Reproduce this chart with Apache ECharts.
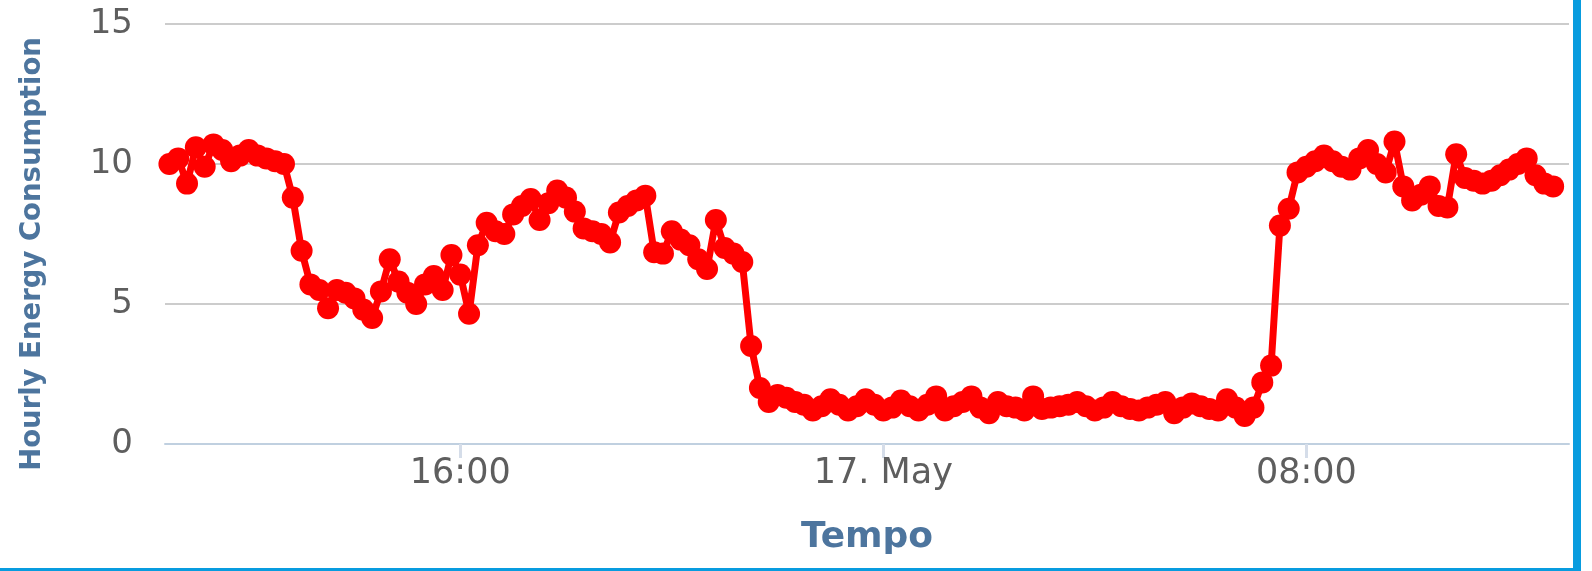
<!DOCTYPE html>
<html>
<head>
<meta charset="utf-8">
<script src="https://cdn.jsdelivr.net/npm/echarts@6/dist/echarts.min.js"></script>
<style>
  html, body { margin: 0; padding: 0; background: #ffffff; }
  #chart { width: 1592px; height: 571px; }
</style>
</head>
<body>
<div id="chart"></div>
<script>
// sampling grid: one reading every 10 minutes from 16 May 10:30
const startTime = new Date(2017, 4, 16, 10, 30).getTime();
const stepMs = 10 * 60 * 1000;

// hourly energy consumption readings
const consumption = [
  10.0, 10.2, 9.3, 10.6, 9.9, 10.7, 10.5, 10.1, 10.3, 10.5,
  10.3, 10.2, 10.1, 10.0, 8.8, 6.9, 5.7, 5.5, 4.85, 5.5,
  5.4, 5.2, 4.8, 4.5, 5.45, 6.6, 5.8, 5.4, 5.0, 5.7,
  6.0, 5.5, 6.75, 6.05, 4.65, 7.1, 7.9, 7.6, 7.5, 8.2,
  8.5, 8.75, 8.0, 8.6, 9.05, 8.8, 8.3, 7.7, 7.6, 7.5,
  7.2, 8.27, 8.5, 8.7, 8.87, 6.85, 6.8, 7.6, 7.3, 7.1,
  6.6, 6.25, 8.0, 7.0, 6.8, 6.5, 3.5, 2.0, 1.5, 1.75,
  1.65, 1.5, 1.4, 1.2, 1.35, 1.6, 1.4, 1.2, 1.35, 1.6,
  1.4, 1.2, 1.3, 1.55, 1.35, 1.2, 1.4, 1.7, 1.2, 1.35,
  1.5, 1.7, 1.3, 1.1, 1.5, 1.35, 1.3, 1.2, 1.7, 1.25,
  1.3, 1.35, 1.4, 1.5, 1.35, 1.2, 1.3, 1.5, 1.35, 1.25,
  1.2, 1.3, 1.4, 1.5, 1.1, 1.3, 1.45, 1.35, 1.25, 1.2,
  1.6, 1.3, 1.0, 1.3, 2.2, 2.8, 7.8, 8.4, 9.7, 9.9,
  10.1, 10.3, 10.1, 9.9, 9.8, 10.2, 10.5, 10.0, 9.7, 10.8,
  9.2, 8.7, 8.9, 9.2, 8.5, 8.45, 10.35, 9.5, 9.4, 9.3,
  9.4, 9.6, 9.8, 10.0, 10.2, 9.6, 9.3, 9.2
];

// x axis range and tick positions
const axisStart = new Date(2017, 4, 16, 10, 25).getTime();
const axisEnd = new Date(2017, 4, 17, 12, 58).getTime();
const xTicks = [
  new Date(2017, 4, 16, 16, 0).getTime(),
  new Date(2017, 4, 17, 0, 0).getTime(),
  new Date(2017, 4, 17, 8, 0).getTime()
];
const monthNames = ['Jan', 'Feb', 'Mar', 'Apr', 'May', 'Jun', 'Jul', 'Aug', 'Sep', 'Oct', 'Nov', 'Dec'];

const yTicks = { min: 0, max: 15, interval: 5 };

const seriesData = consumption.map((v, i) => [startTime + i * stepMs, v]);

const chart = echarts.init(document.getElementById('chart'));

const labelColor = '#5e5e5e';
const titleColor = '#4d759e';

chart.setOption({
  animation: false,
  backgroundColor: '#ffffff',
  grid: { left: 165, right: 23, top: 24, bottom: 127 },
  xAxis: {
    type: 'value',
    min: axisStart,
    max: axisEnd,
    name: 'Tempo',
    nameLocation: 'middle',
    nameGap: 76,
    nameTextStyle: {
      color: titleColor,
      fontFamily: 'DejaVu Sans',
      fontWeight: 'bold',
      fontSize: 36
    },
    axisLine: { show: true, lineStyle: { color: '#c0d0e0', width: 2 } },
    axisTick: {
      show: true,
      customValues: xTicks,
      length: 14,
      lineStyle: { color: '#d5dde9', width: 3 }
    },
    axisLabel: {
      customValues: xTicks,
      color: labelColor,
      fontFamily: 'DejaVu Sans',
      fontSize: 35,
      margin: 12,
      formatter: (val) => {
        const d = new Date(val);
        if (d.getHours() === 0 && d.getMinutes() === 0) {
          return d.getDate() + '. ' + monthNames[d.getMonth()];
        }
        const hh = String(d.getHours()).padStart(2, '0');
        const mm = String(d.getMinutes()).padStart(2, '0');
        return hh + ':' + mm;
      }
    },
    splitLine: { show: false }
  },
  yAxis: {
    type: 'value',
    min: yTicks.min,
    max: yTicks.max,
    interval: yTicks.interval,
    name: 'Hourly Energy Consumption',
    nameLocation: 'middle',
    nameRotate: 90,
    nameGap: 118,
    nameTextStyle: {
      color: titleColor,
      fontFamily: 'DejaVu Sans',
      fontWeight: 'bold',
      fontSize: 27.5,
      padding: [0, 40, 0, 0]
    },
    axisLine: { show: false },
    axisTick: { show: false },
    axisLabel: {
      color: labelColor,
      fontFamily: 'DejaVu Sans',
      fontSize: 34,
      margin: 32
    },
    splitLine: { lineStyle: { color: '#cccccc', width: 2 } }
  },
  series: [
    {
      type: 'line',
      data: seriesData,
      symbol: 'circle',
      symbolSize: 22,
      showAllSymbol: true,
      lineStyle: { color: '#ff0000', width: 7 },
      itemStyle: { color: '#ff0000', borderWidth: 0 },
      emphasis: { disabled: true }
    }
  ],
  graphic: [
    // blue frame on the right and bottom edges
    { type: 'rect', left: 1573, top: 0, shape: { width: 8, height: 571 }, style: { fill: '#089cdf' }, silent: true },
    { type: 'rect', left: 0, top: 568, shape: { width: 1581, height: 3 }, style: { fill: '#089cdf' }, silent: true }
  ]
});
</script>
</body>
</html>
